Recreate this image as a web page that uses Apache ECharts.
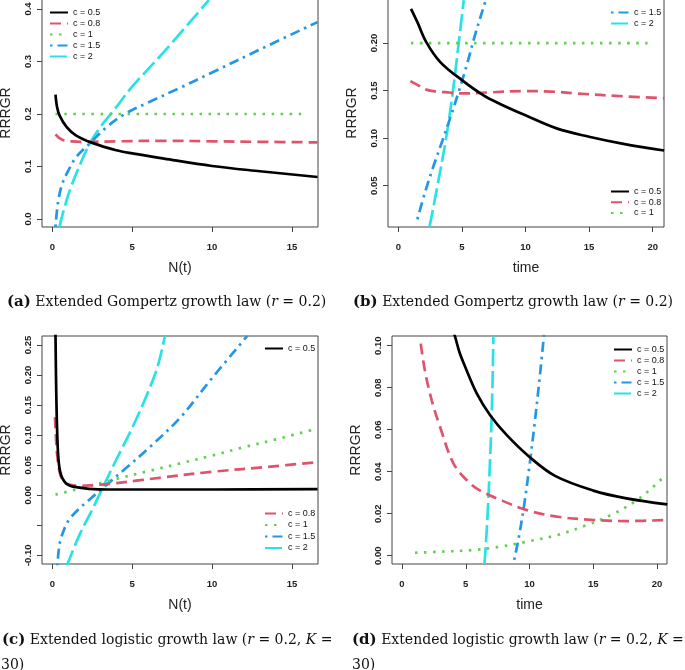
<!DOCTYPE html>
<html><head><meta charset="utf-8">
<script src="https://cdn.jsdelivr.net/npm/echarts@6/dist/echarts.min.js"></script>
<style>html,body{margin:0;padding:0;background:#fff}#c{width:685px;height:670px}</style>
</head><body><div id="c"></div>
<script>
// ---------- data ----------
const seriesNames = ['c = 0.5', 'c = 0.8', 'c = 1', 'c = 1.5', 'c = 2'];

// (a) Extended Gompertz, RRRGR vs N(t)
const gompN_c05 = [[0.2,0.237],[0.3,0.213],[0.46,0.197],[0.9,0.175],[1.5,0.159],[2.5,0.145],[4,0.131],[5,0.125],[7,0.115],[10,0.101],[13,0.091],[16.6,0.080]];
const gompN_c08 = [[0.2,0.161],[0.4,0.155],[0.7,0.150],[1.2,0.148],[2,0.147],[4,0.148],[7,0.149],[10,0.148],[13,0.147],[16.6,0.146]];
const gompN_c1  = [[0.2,0.2],[4,0.2],[8,0.2],[12,0.2],[15.7,0.2]];
const gompN_c15 = [[0.2,-0.015],[0.35,0.03],[0.6,0.065],[1,0.092],[1.5,0.118],[2.35,0.144],[3.4,0.175],[4.54,0.2],[6,0.222],[8,0.25],[10,0.279],[13,0.323],[16.6,0.375]];
const gompN_c2  = [[0.45,-0.015],[0.7,0.015],[1.1,0.055],[1.8,0.108],[2.35,0.144],[3,0.175],[3.8,0.205],[5,0.252],[7.1,0.322],[9.8,0.417]];

// (b) Extended Gompertz, RRRGR vs time
const gompT_c05 = [[1,0.236],[1.5,0.222],[2.2,0.201],[3.3,0.180],[5,0.161],[6.7,0.145],[8,0.136],[10,0.124],[12.5,0.110],[15,0.1015],[17.7,0.094],[20.9,0.087]];
const gompT_c08 = [[0.95,0.160],[1.5,0.156],[2.2,0.151],[3,0.149],[4,0.148],[5,0.147],[7,0.148],[10,0.1495],[12,0.149],[14,0.147],[17.7,0.144],[20.9,0.142]];
const gompT_c1  = [[1,0.2],[5,0.2],[10,0.2],[15,0.2],[19.6,0.2]];
const gompT_c15 = [[1.5,0.0147],[2.1,0.043],[2.75,0.07],[3.46,0.097],[4.15,0.124],[4.8,0.151],[5.43,0.179],[6.0,0.207],[6.63,0.2346],[6.9,0.246]];
const gompT_c2  = [[2.46,0.007],[3.08,0.05],[3.76,0.1],[4.3,0.15],[4.75,0.2],[5.15,0.245]];

// (c) Extended logistic, RRRGR vs N(t)
const logN_c05 = [[0.2,0.27],[0.23,0.2],[0.27,0.14],[0.31,0.1],[0.37,0.065],[0.45,0.045],[0.58,0.031],[0.75,0.023],[0.9,0.019],[1.2,0.015],[1.5,0.0135],[2.3,0.0105],[3.5,0.0095],[6,0.0095],[10,0.0095],[16.6,0.010]];
const logN_c08 = [[0.17,0.13],[0.2,0.11],[0.24,0.09],[0.3,0.068],[0.38,0.05],[0.48,0.036],[0.65,0.025],[0.9,0.019],[1.3,0.0165],[1.8,0.0155],[2.5,0.0165],[3.6,0.019],[5.5,0.025],[6.7,0.029],[10,0.039],[13.4,0.047],[16.6,0.055]];
const logN_c1  = [[0.2,0.001],[2,0.013],[4,0.027],[6,0.040],[8,0.053],[10,0.066],[12,0.080],[14,0.093],[16.6,0.111]];
const logN_c15 = [[0.31,-0.118],[0.4,-0.092],[0.5,-0.076],[0.8,-0.053],[1.1,-0.039],[1.7,-0.022],[2.3,-0.008],[3.2,0.013],[4.65,0.046],[6.1,0.080],[8,0.129],[10,0.195],[12.2,0.265]];
const logN_c2  = [[0.9,-0.118],[1.7,-0.066],[2.5,-0.024],[3.2,0.015],[4,0.059],[5,0.112],[6,0.172],[6.6,0.215],[7.05,0.265]];

// (d) Extended logistic, RRRGR vs time
const logT_c05 = [[4.0,0.107],[4.16,0.1043],[4.5,0.097],[4.95,0.090],[5.86,0.0773],[6.9,0.067],[8.2,0.0575],[10,0.047],[12,0.038],[15,0.031],[17.6,0.0273],[20.8,0.0244]];
const logT_c08 = [[1.47,0.101],[1.8,0.088],[2.33,0.074],[2.98,0.0614],[4.03,0.044],[5.2,0.0352],[6.13,0.031],[7.43,0.0273],[9.8,0.0217],[12.15,0.0186],[15.03,0.017],[17.6,0.0165],[20.8,0.017]];
const logT_c1  = [[1.02,0.0014],[2.98,0.0019],[5.6,0.0027],[7.7,0.0043],[9.8,0.0067],[12.15,0.0098],[14.5,0.0146],[16.6,0.020],[18.43,0.0265],[19.87,0.0337],[20.65,0.0384]];
const logT_c15 = [[8.8,-0.002],[9.2,0.01],[9.6,0.025],[10.0,0.043],[10.4,0.063],[10.8,0.085],[11.15,0.106]];
const logT_c2  = [[6.47,-0.004],[6.7,0.018],[6.9,0.045],[7.05,0.07],[7.17,0.1045]];

// tick values
const xTicksN = [0, 5, 10, 15];
const xTicksTime = [0, 5, 10, 15, 20];
const yTicksA = [0, 0.1, 0.2, 0.3, 0.4];
const yTicksB = [0.05, 0.10, 0.15, 0.20];
const yTicksC = [-0.10, -0.05, 0, 0.05, 0.10, 0.15, 0.20, 0.25];
const yLabelsC = [-0.10, 0, 0.05, 0.10, 0.15, 0.20, 0.25];
const yTicksD = [0, 0.02, 0.04, 0.06, 0.08, 0.10];

// ---------- styles ----------
const colors = ['#000000', '#DF536B', '#61D04F', '#2297E6', '#28E2E5'];
const dashes = ['solid', [11, 6], [2.5, 6.5], [2.5, 5, 10, 5], [17, 5]];
const LW = 2.7;
const AX = '#444';
const SANS = '"Liberation Sans", Arial, sans-serif';
const SERIF = '"DejaVu Serif", serif';

function mk(name, data, idx) {
  const k = seriesNames.indexOf(name);
  return {
    type: 'line', name: name, data: data,
    xAxisIndex: idx, yAxisIndex: idx,
    symbol: 'none', showSymbol: false, smooth: 0.35, clip: true, silent: true,
    lineStyle: { color: colors[k], width: LW, type: dashes[k], cap: 'butt' },
    itemStyle: { color: colors[k] },
    z: 10 - k
  };
}

function xAx(idx, min, max, ticks, name) {
  return {
    type: 'value', gridIndex: idx, min: min, max: max, position: 'bottom',
    axisLine: { show: false, onZero: false },
    axisTick: { show: true, inside: false, length: 5, lineStyle: { color: AX, width: 1 }, customValues: ticks },
    axisLabel: { customValues: ticks, margin: 15, fontSize: 9.5, fontWeight: 'bold', fontFamily: SANS, color: '#222',
      formatter: v => String(Math.round(v)) },
    splitLine: { show: false },
    name: name, nameLocation: 'middle', nameGap: 34,
    nameTextStyle: { fontSize: 14, fontFamily: SANS, color: '#222' }
  };
}
function yAx(idx, min, max, ticks, labels, dec) {
  return {
    type: 'value', gridIndex: idx, min: min, max: max, position: 'left',
    axisLine: { show: false, onZero: false },
    axisTick: { show: true, inside: false, length: 5, lineStyle: { color: AX, width: 1 }, customValues: ticks },
    axisLabel: { customValues: labels, rotate: 90, margin: 9, fontSize: 9.5, fontWeight: 'bold', fontFamily: SANS, color: '#222',
      formatter: v => v.toFixed(dec) },
    splitLine: { show: false },
    name: 'RRRGR', nameLocation: 'middle', nameGap: 29,
    nameTextStyle: { fontSize: 14, fontFamily: SANS, color: '#222' }
  };
}
function leg(names, left, top, gap) {
  return {
    data: names, orient: 'vertical', left: left, top: top, padding: 0,
    itemWidth: 18, itemHeight: 10, itemGap: gap, selectedMode: false,
    textStyle: { fontSize: 9, fontFamily: SANS, color: '#111', padding: [0, 0, 0, 0] },
    itemStyle: { opacity: 0 }
  };
}
function caption(x, y, text) {
  return {
    type: 'text', x: x, y: y, silent: true,
    style: {
      text: text, fontFamily: SERIF, fontSize: 14, fill: '#111', verticalAlign: 'middle',
      rich: {
        b: { fontWeight: 'bold', fontFamily: SERIF, fontSize: 15, fill: '#111' },
        i: { fontStyle: 'italic', fontFamily: SERIF, fontSize: 14, fill: '#111' }
      }
    }
  };
}

const gridBase = { show: true, borderColor: AX, borderWidth: 1, backgroundColor: 'transparent', containLabel: false, outerBoundsMode: 'none' };

const option = {
  animation: false,
  backgroundColor: '#ffffff',
  grid: [
    Object.assign({ left: 42, top: -1, width: 276, height: 228 }, gridBase),
    Object.assign({ left: 388, top: -1, width: 276, height: 228 }, gridBase),
    Object.assign({ left: 42, top: 336, width: 276, height: 228 }, gridBase),
    Object.assign({ left: 392, top: 336, width: 275, height: 228 }, gridBase)
  ],
  xAxis: [
    xAx(0, -0.645, 16.63, xTicksN, 'N(t)'),
    xAx(1, -0.81, 20.89, xTicksTime, 'time'),
    xAx(2, -0.645, 16.63, xTicksN, 'N(t)'),
    xAx(3, -0.784, 20.78, xTicksTime, 'time')
  ],
  yAxis: [
    yAx(0, -0.0152, 0.419, yTicksA, yTicksA, 1),
    yAx(1, 0.00659, 0.2463, yTicksB, yTicksB, 2),
    yAx(2, -0.1145, 0.265, yTicksC, yLabelsC, 2),
    yAx(3, -0.00395, 0.1046, yTicksD, yTicksD, 2)
  ],
  legend: [
    leg(seriesNames, 49, 8, 2),
    leg(['c = 1.5', 'c = 2'], 610, 8, 2),
    leg(['c = 0.5', 'c = 0.8', 'c = 1'], 610, 187, 1.7),
    leg(['c = 0.5'], 264, 344, 2),
    leg(['c = 0.8', 'c = 1', 'c = 1.5', 'c = 2'], 264, 509, 2.5),
    leg(seriesNames, 613, 345, 2)
  ],
  series: [
    mk('c = 0.5', gompN_c05, 0), mk('c = 0.8', gompN_c08, 0), mk('c = 1', gompN_c1, 0), mk('c = 1.5', gompN_c15, 0), mk('c = 2', gompN_c2, 0),
    mk('c = 0.5', gompT_c05, 1), mk('c = 0.8', gompT_c08, 1), mk('c = 1', gompT_c1, 1), mk('c = 1.5', gompT_c15, 1), mk('c = 2', gompT_c2, 1),
    mk('c = 0.5', logN_c05, 2), mk('c = 0.8', logN_c08, 2), mk('c = 1', logN_c1, 2), mk('c = 1.5', logN_c15, 2), mk('c = 2', logN_c2, 2),
    mk('c = 0.5', logT_c05, 3), mk('c = 0.8', logT_c08, 3), mk('c = 1', logT_c1, 3), mk('c = 1.5', logT_c15, 3), mk('c = 2', logT_c2, 3)
  ],
  graphic: [
    caption(7, 302, '{b|(a)} Extended Gompertz growth law ({i|r} = 0.2)'),
    caption(353, 302, '{b|(b)} Extended Gompertz growth law ({i|r} = 0.2)'),
    caption(2, 640, '{b|(c)} Extended logistic growth law ({i|r} = 0.2, {i|K} ='),
    caption(1, 665, '30)'),
    caption(352, 640, '{b|(d)} Extended logistic growth law ({i|r} = 0.2, {i|K} ='),
    caption(352, 665, '30)')
  ]
};

const chart = echarts.init(document.getElementById('c'), null, { renderer: 'canvas' });
chart.setOption(option);
</script>
</body></html>
